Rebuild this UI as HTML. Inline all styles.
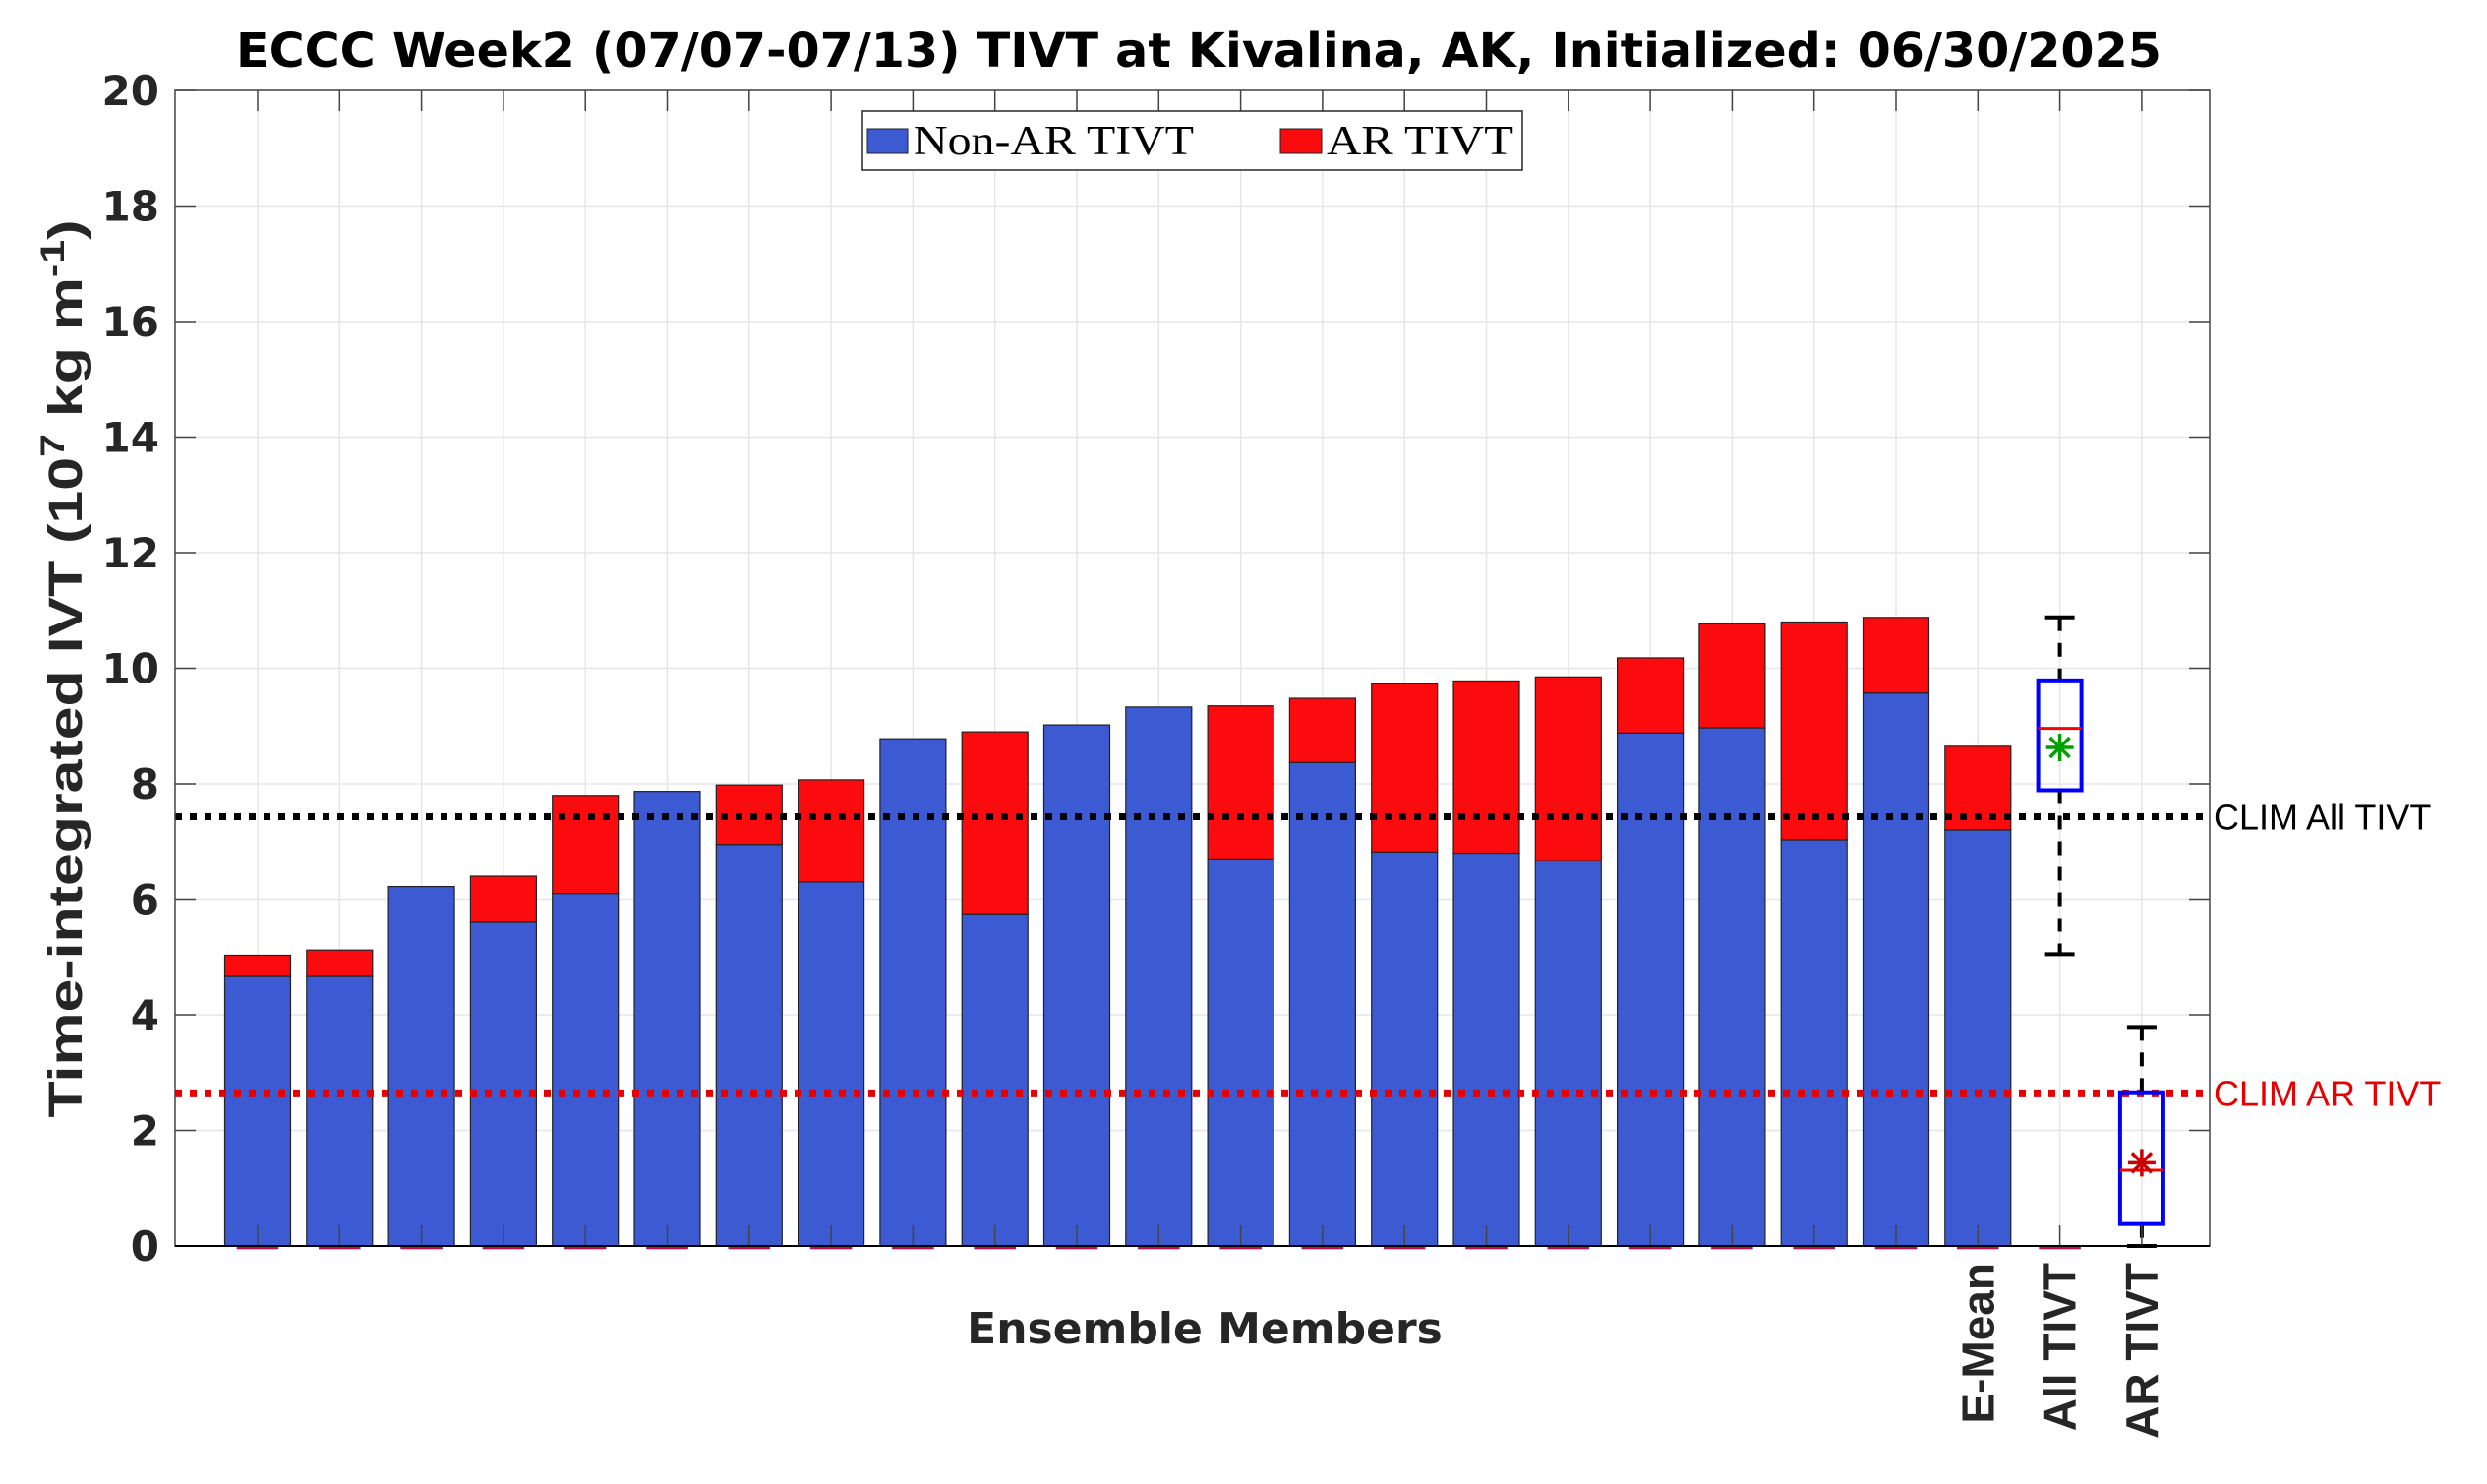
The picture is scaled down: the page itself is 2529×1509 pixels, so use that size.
<!DOCTYPE html>
<html><head><meta charset="utf-8"><style>
html,body{margin:0;padding:0;background:#fff;}
svg{display:block;}
</style></head><body>
<svg id="chart" width="2529" height="1509" xmlns="http://www.w3.org/2000/svg">
<rect x="0" y="0" width="2529" height="1509" fill="#fff"/>
<text x="1219" y="68" text-anchor="middle" font-family="DejaVu Sans, sans-serif" font-weight="bold" font-size="48" fill="#000" textLength="1958" lengthAdjust="spacingAndGlyphs">ECCC Week2 (07/07-07/13) TIVT at Kivalina, AK, Initialized: 06/30/2025</text>
<g id="grid"></g>
<g id="bars"></g>
<g id="lines"></g>
<g id="boxes"></g>
<g id="axes"></g>
<text transform="translate(83,680) rotate(-90)" text-anchor="middle" font-family="Liberation Sans, sans-serif" font-weight="bold" font-size="48" fill="#262626" textLength="913" lengthAdjust="spacingAndGlyphs">Time-integrated IVT (10<tspan dy="-18" font-size="34">7</tspan><tspan dy="18"> kg m</tspan><tspan dy="-18" font-size="34">-1</tspan><tspan dy="18">)</tspan></text>
<text x="1225" y="1366" text-anchor="middle" font-family="DejaVu Sans, sans-serif" font-weight="bold" font-size="44" fill="#262626">Ensemble Members</text>
<g>
<rect x="877" y="113" width="671" height="60" fill="#fff" stroke="#262626" stroke-width="1.5"/>
<rect x="882" y="131" width="41" height="25" fill="#3c5bd2" stroke="#222" stroke-width="1"/>
<text x="929" y="157" font-family="Liberation Serif, serif" font-size="42" fill="#000" textLength="285" lengthAdjust="spacingAndGlyphs">Non-AR TIVT</text>
<rect x="1302" y="131" width="42" height="25" fill="#fb0b0e" stroke="#222" stroke-width="1"/>
<text x="1349" y="157" font-family="Liberation Serif, serif" font-size="42" fill="#000" textLength="190" lengthAdjust="spacingAndGlyphs">AR TIVT</text>
</g>
</svg>
<script>
const nonAR = [4.68,4.68,6.22,5.6,6.1,7.87,6.95,6.3,8.78,5.75,9.02,9.33,6.7,8.37,6.82,6.8,6.67,8.88,8.97,7.03,9.57,7.2];
const total = [5.03,5.12,6.22,6.4,7.8,7.87,7.98,8.07,8.78,8.9,9.02,9.33,9.35,9.48,9.73,9.78,9.85,10.18,10.77,10.8,10.88,8.65];
const yTicks = [0,2,4,6,8,10,12,14,16,18,20];
const catLabels = ["E-Mean","All TIVT","AR TIVT"];
const allBox = {lo:5.05, q1:7.89, med:8.96, q3:9.79, hi:10.88, mean:8.63};
const arBox = {lo:0, q1:0.38, med:1.31, q3:2.66, hi:3.79, mean:1.44};
const climAll = 7.43;
const climAR = 2.65;

const NS="http://www.w3.org/2000/svg";
const L=178,R=2247,T=92,B=1267;
const X=i=>262+(i-1)*83.3;      // category index (1-based)
const Y=v=>B-(v/20)*(B-T);
function mk(tag,attrs,parent){const e=document.createElementNS(NS,tag);for(const k in attrs)e.setAttribute(k,attrs[k]);parent.appendChild(e);return e;}
const grid=document.getElementById('grid'),bars=document.getElementById('bars'),lines=document.getElementById('lines'),boxes=document.getElementById('boxes'),axes=document.getElementById('axes');
mk('rect',{x:L,y:T,width:R-L,height:B-T,fill:'#fff'},grid);
yTicks.forEach(v=>{
  const g=mk('line',{x1:L,x2:R,y1:Y(v),y2:Y(v),stroke:'#e6e6e6','stroke-width':1.5},grid);
  
  
  mk('line',{x1:L,x2:L+21,y1:Y(v),y2:Y(v),stroke:'#444','stroke-width':1.5},axes);
  mk('line',{x1:R-21,x2:R,y1:Y(v),y2:Y(v),stroke:'#444','stroke-width':1.5},axes);
  const t=mk('text',{x:162,y:Y(v)+15,'text-anchor':'end','font-family':'DejaVu Sans, sans-serif','font-weight':'bold','font-size':42,fill:'#262626'},axes);
  
  
  t.textContent=v;
});
for(let i=1;i<=24;i++){
  const g=mk('line',{x1:X(i),x2:X(i),y1:T,y2:B,stroke:'#e6e6e6','stroke-width':1.5},grid);
  
  
  mk('line',{x1:X(i),x2:X(i),y1:T,y2:T+21,stroke:'#444','stroke-width':1.5},axes);
  mk('line',{x1:X(i),x2:X(i),y1:B-21,y2:B,stroke:'#444','stroke-width':1.5},axes);
}
const bw=67;
nonAR.forEach((v,k)=>{
  const i=k+1;
  const b=mk('rect',{x:X(i)-bw/2,y:Y(v),width:bw,height:Y(0)-Y(v),fill:'#3c5bd2',stroke:'#222','stroke-width':1.2},bars);
  
  
  if(total[k]>v){
    const r=mk('rect',{x:X(i)-bw/2,y:Y(total[k]),width:bw,height:Y(v)-Y(total[k]),fill:'#fb0b0e',stroke:'#222','stroke-width':1.2},bars);
    
    
  }
});
for(let i=1;i<=23;i++){
  const m=mk('rect',{x:X(i)-21,y:B,width:42,height:3,fill:'#f00',stroke:'#33f','stroke-width':0.6},bars);
  
  
}
function clim(v,color,label,name){
  const l=mk('line',{x1:L,x2:R,y1:Y(v),y2:Y(v),stroke:color,'stroke-width':7,'stroke-dasharray':'7 8'},lines);
  
  
  const t=mk('text',{x:2251,y:Y(v)+13,'font-family':'Liberation Sans, sans-serif','font-size':36,fill:color},lines);
  
  
  t.textContent=label;
}
clim(climAll,'#000','CLIM All TIVT','clim-all');
clim(climAR,'#e60000','CLIM AR TIVT','clim-ar');
function box(i,d,starColor,name){
  const cx=X(i),hw=22;
  const g=mk('g',{},boxes);
  
  
  mk('line',{x1:cx,x2:cx,y1:Y(d.hi),y2:Y(d.q3),stroke:'#000','stroke-width':4,'stroke-dasharray':'14 12'},g);
  mk('line',{x1:cx,x2:cx,y1:Y(d.q1),y2:Y(d.lo),stroke:'#000','stroke-width':4,'stroke-dasharray':'14 12'},g);
  mk('line',{x1:cx-15,x2:cx+15,y1:Y(d.hi),y2:Y(d.hi),stroke:'#000','stroke-width':4},g);
  mk('line',{x1:cx-15,x2:cx+15,y1:Y(d.lo),y2:Y(d.lo),stroke:'#000','stroke-width':4},g);
  mk('rect',{x:cx-hw,y:Y(d.q3),width:2*hw,height:Y(d.q1)-Y(d.q3),fill:'none',stroke:'#00f','stroke-width':4},g);
  mk('line',{x1:cx-hw,x2:cx+hw,y1:Y(d.med),y2:Y(d.med),stroke:'#f00','stroke-width':3},g);
  const sy=Y(d.mean),s=14;
  [[-s,0,s,0],[0,-s,0,s],[-10,-10,10,10],[-10,10,10,-10]].forEach(a=>mk('line',{x1:cx+a[0],y1:sy+a[1],x2:cx+a[2],y2:sy+a[3],stroke:starColor,'stroke-width':3.5},g));
}
box(23,allBox,'#00a000','box-all-tivt');
box(24,arBox,'#cc0000','box-ar-tivt');
mk('rect',{x:L,y:T,width:R-L,height:B-T,fill:'none',stroke:'#444','stroke-width':1.5},axes);
mk('line',{x1:L,x2:R,y1:B,y2:B,stroke:'#000','stroke-width':2},axes);
catLabels.forEach((s,k)=>{
  const i=22+k;
  const t=mk('text',{transform:`translate(${X(i)+16},1284) rotate(-90)`,'text-anchor':'end','font-family':'Liberation Sans, sans-serif','font-weight':'bold','font-size':46,fill:'#262626'},axes);
  
  
  t.textContent=s;
});
</script>
</body></html>
